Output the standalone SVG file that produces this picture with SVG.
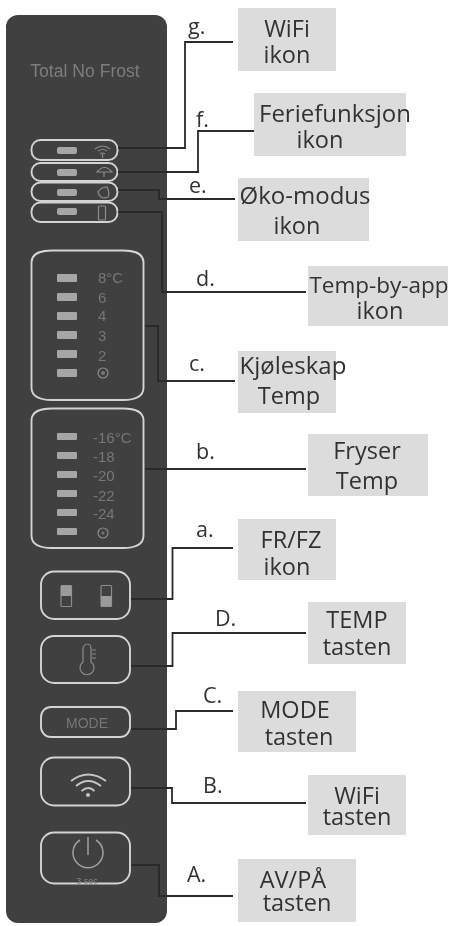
<svg xmlns="http://www.w3.org/2000/svg" width="451" height="926" viewBox="0 0 451 926">
<style>
.lbl{font-family:"Open Sans","Liberation Sans",sans-serif;font-size:23.5px;fill:#333;text-anchor:middle}
.let{font-family:"Open Sans","Liberation Sans",sans-serif;font-size:21.5px;fill:#333}
.box{fill:#dcdcdc}
.c{fill:none;stroke:#2b2b2b;stroke-width:1.8}
.f{fill:none;stroke:#d4d4d4;stroke-width:1.9}
.led{fill:#a6a6a6}
.t{font-family:"Liberation Sans",sans-serif;font-size:15px;fill:#777}
.ic{fill:none;stroke:#8c8c8c;stroke-width:1.2}
</style>
<defs><filter id="soft" x="0" y="0" width="100%" height="100%"><feGaussianBlur stdDeviation="0.4"/></filter></defs>
<rect width="451" height="926" fill="#fff"/>
<g filter="url(#soft)">
<g id="panel">
<rect x="6" y="15" width="161" height="908" rx="12" fill="#3f3f3f"/>
<text x="85" y="77" font-family="Liberation Sans,sans-serif" font-size="17.6" fill="#7d7d7d" text-anchor="middle">Total No Frost</text>
</g>
<g id="indicator-g"><rect x="31.500" y="140" width="86" height="20" rx="9" class="f"/><rect x="57" y="147" width="20" height="7" rx="2" class="led"/><path class="ic" d="M95 149q7.500-6 15 0M98 151q4.500-3 9 0M100 154q2.500-2 5 0M102.500 154v4"/></g>
<g id="indicator-f"><rect x="31.500" y="163" width="86" height="18" rx="9" class="f"/><rect x="57" y="169" width="20" height="7" rx="2" class="led"/><path class="ic" d="M97 172q7.500-9 15 0zM104 172v5"/></g>
<g id="indicator-e"><rect x="31.500" y="182.500" width="86" height="18.500" rx="9" class="f"/><rect x="57" y="189" width="20" height="7" rx="2" class="led"/><path class="ic" d="M98 192q3-5 9-5 3 6 1 10-8 3-10-5z"/></g>
<g id="indicator-d"><rect x="31.500" y="202.500" width="86" height="19.500" rx="9" class="f"/><rect x="57" y="208" width="20" height="7" rx="2" class="led"/><rect x="98.500" y="206" width="7" height="14" rx="1" class="ic"/></g>
<g id="fridge-temp"><path class="f" d="M31.500 262Q32 250.500 52 250.500H123Q143 250.500 143.500 262V388Q143 400 123 400H52Q32 400 31.500 388Z"/>
<rect x="57" y="274" width="20" height="8" rx="1" class="led"/><rect x="57" y="293" width="20" height="8" rx="1" class="led"/><rect x="57" y="312" width="20" height="8" rx="1" class="led"/><rect x="57" y="331" width="20" height="8" rx="1" class="led"/><rect x="57" y="350" width="20" height="8" rx="1" class="led"/><rect x="57" y="369" width="20" height="8" rx="1" class="led"/>
<text class="t" x="98" y="283">8°C</text><text class="t" x="98" y="303">6</text><text class="t" x="98" y="321">4</text><text class="t" x="98" y="341">3</text><text class="t" x="98" y="361">2</text><circle class="ic" cx="103" cy="373" r="5"/><circle cx="103" cy="373" r="2" fill="#777"/></g>
<g id="freezer-temp"><path class="f" d="M31.500 420Q32 408.500 52 408.500H123Q143 408.500 143.500 420V536Q143 548 123 548H52Q32 548 31.500 536Z"/>
<rect x="57" y="433" width="20" height="7" rx="1" class="led"/><rect x="57" y="452" width="20" height="7" rx="1" class="led"/><rect x="57" y="471" width="20" height="7" rx="1" class="led"/><rect x="57" y="490" width="20" height="7" rx="1" class="led"/><rect x="57" y="509" width="20" height="7" rx="1" class="led"/><rect x="57" y="528" width="20" height="7" rx="1" class="led"/>
<text class="t" x="93" y="443">-16°C</text><text class="t" x="93" y="462">-18</text><text class="t" x="93" y="481">-20</text><text class="t" x="93" y="501">-22</text><text class="t" x="93" y="519">-24</text><circle class="ic" cx="103" cy="533" r="5"/><circle cx="103" cy="533" r="1.500" fill="#777"/></g>
<g id="fr-fz"><rect x="41" y="571.500" width="89" height="47.500" rx="13" class="f"/><rect x="61" y="585.500" width="10.500" height="21" rx="1" class="ic"/><rect x="61" y="585.500" width="10.500" height="10.500" fill="#9a9a9a"/><rect x="101" y="585.500" width="10.500" height="21" rx="1" class="ic"/><rect x="101" y="596" width="10.500" height="10.500" fill="#9a9a9a"/></g>
<g id="temp-key"><rect x="41" y="636" width="89" height="47" rx="13" class="f"/><path class="ic" d="M88 644q-5 0-5 6v12a7 7 0 1 0 8 0v-12q0-6-3-6zM92 650h4M92 654h4M92 658h4"/></g>
<g id="mode-key"><rect x="41" y="707" width="89" height="30" rx="10" class="f"/><text x="87" y="728" font-family="Liberation Sans,sans-serif" font-size="14" fill="#777" text-anchor="middle">MODE</text></g>
<g id="wifi-key"><rect x="41" y="757.500" width="89" height="48" rx="13" class="f"/><path fill="none" stroke="#c4c4c4" stroke-width="2" d="M71 781q17-13 35 0M76 786q12-10 25 0M81.500 791q7-6 13 0"/><circle cx="88" cy="795" r="2" fill="#c4c4c4"/></g>
<g id="power-key"><rect x="41" y="832.500" width="89" height="51" rx="13" class="f"/><path fill="none" stroke="#a0a0a0" stroke-width="1.500" d="M80 840a15 15 0 1 0 16 0M88 837v18"/><text x="87" y="884" font-family="Liberation Sans,sans-serif" font-size="9" fill="#8a8a8a" text-anchor="middle">3 sec</text></g>
<g id="connectors">
<path class="c" d="M118 148H185V42H233"/>
<path class="c" d="M118 172H198V131H254"/>
<path class="c" d="M118 190H159V199H235"/>
<path class="c" d="M118 212H162V292H306"/>
<path class="c" d="M145 326H158V381H235"/>
<path class="c" d="M145 469H306"/>
<path class="c" d="M131 599H172.500V548H233"/>
<path class="c" d="M131 666H172.500V633H306"/>
<path class="c" d="M131 729H176V711H233"/>
<path class="c" d="M131 788H172V803H306"/>
<path class="c" d="M131 865H159V896H233"/>
</g>
<g id="label-g"><rect class="box" x="238" y="8" width="98" height="63"/><text class="let" x="188" y="34">g.</text><text class="lbl" x="287" y="37">WiFi</text><text class="lbl" x="287" y="63">ikon</text></g>
<g id="label-f"><rect class="box" x="254" y="93" width="152" height="63"/><text class="let" x="196" y="127">f.</text><text class="lbl" x="335" y="122" style="font-size:24px">Feriefunksjon</text><text class="lbl" x="320" y="148">ikon</text></g>
<g id="label-e"><rect class="box" x="238" y="178" width="131" height="63"/><text class="let" x="189" y="193">e.</text><text class="lbl" x="305" y="204" style="font-size:24px">Øko-modus</text><text class="lbl" x="297" y="234">ikon</text></g>
<g id="label-d"><rect class="box" x="308" y="266" width="140" height="60"/><text class="let" x="196" y="286">d.</text><text class="lbl" x="379" y="293" style="font-size:22.500px">Temp-by-app</text><text class="lbl" x="380" y="319">ikon</text></g>
<g id="label-c"><rect class="box" x="238" y="351" width="98" height="62"/><text class="let" x="189" y="371">c.</text><text class="lbl" x="293" y="374" style="font-size:24px">Kjøleskap</text><text class="lbl" x="289" y="404">Temp</text></g>
<g id="label-b"><rect class="box" x="308" y="434" width="120" height="62"/><text class="let" x="196" y="459">b.</text><text class="lbl" x="367" y="459">Fryser</text><text class="lbl" x="367" y="489">Temp</text></g>
<g id="label-a"><rect class="box" x="238" y="519" width="98" height="61"/><text class="let" x="196" y="537">a.</text><text class="lbl" x="291" y="548">FR/FZ</text><text class="lbl" x="287" y="575">ikon</text></g>
<g id="label-D"><rect class="box" x="308" y="602" width="98" height="62"/><text class="let" x="215" y="626">D.</text><text class="lbl" x="357" y="628">TEMP</text><text class="lbl" x="357" y="655">tasten</text></g>
<g id="label-C"><rect class="box" x="238" y="691" width="118" height="61"/><text class="let" x="203" y="703">C.</text><text class="lbl" x="295" y="718">MODE</text><text class="lbl" x="299" y="745">tasten</text></g>
<g id="label-B"><rect class="box" x="308" y="775" width="98" height="60"/><text class="let" x="203" y="793">B.</text><text class="lbl" x="357" y="804">WiFi</text><text class="lbl" x="357" y="825">tasten</text></g>
<g id="label-A"><rect class="box" x="238" y="859" width="118" height="63"/><text class="let" x="187" y="882">A.</text><text class="lbl" x="293" y="888">AV/PÅ</text><text class="lbl" x="297" y="911">tasten</text></g>
</g>
</svg>
